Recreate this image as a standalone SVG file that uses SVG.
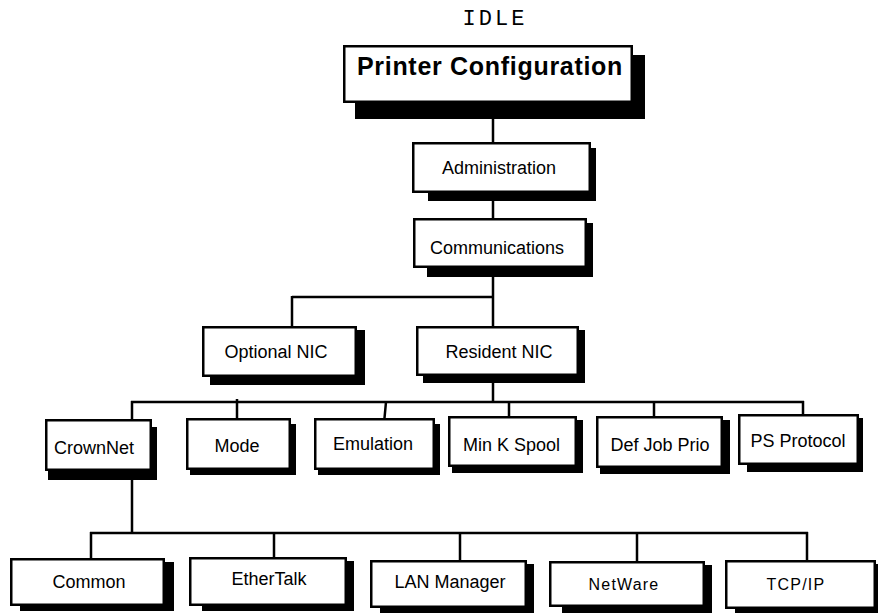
<svg xmlns="http://www.w3.org/2000/svg" width="878" height="613" viewBox="0 0 878 613">
<style>
.sh{fill:#000;stroke:none}
.bx{fill:#fff;stroke:#000;stroke-width:2.5}
.t{font-family:"Liberation Sans",Arial,sans-serif;font-size:18px;fill:#000;text-anchor:middle}
.ts{font-family:"Liberation Sans",Arial,sans-serif;font-size:16px;letter-spacing:1.2px;fill:#000;text-anchor:middle}
.cn{fill:none;stroke:#000;stroke-width:2.5}
</style>
<rect width="878" height="613" fill="#fff"/>
<text x="495" y="25" font-family="'Liberation Mono','Courier New',monospace" font-size="22" letter-spacing="3" text-anchor="middle">IDLE</text>
<g id="connectors">
<path class="cn" d="M493,118V142M493,200V218M493,276V326M292,297H494M292,296V326"/>
<path class="cn" d="M493,382V403M131,402H804M132,401V419M237,399V418M386,402L384.5,418M509,402V416M654,402V416M803,401V414"/>
<path class="cn" d="M132,479V533M90,533H808M91,532V558M274,532V557M460,532V560M637,532V561M807,532V560"/>
</g>
<g id="printer-configuration">
<rect class="sh" x="355" y="55" width="290" height="64"/>
<rect class="bx" x="344.25" y="46.25" width="287.5" height="55.5"/>
<text x="490" y="75" font-family="'Liberation Sans',Arial,sans-serif" font-size="25" font-weight="bold" letter-spacing="0.7" text-anchor="middle">Printer Configuration</text>
</g>
<g id="administration">
<rect class="sh" x="428" y="148" width="168" height="53"/>
<rect class="bx" x="413.25" y="143.25" width="176.5" height="48.5"/>
<text class="t" x="499" y="174">Administration</text>
</g>
<g id="communications">
<rect class="sh" x="427" y="223" width="166" height="54"/>
<rect class="bx" x="414.25" y="219.25" width="171.5" height="47.5"/>
<text class="t" x="497" y="254">Communications</text>
</g>
<g id="optional-nic">
<rect class="sh" x="210" y="330" width="155" height="55"/>
<rect class="bx" x="203.25" y="327.25" width="152.5" height="48.5"/>
<text class="t" x="276" y="358">Optional NIC</text>
</g>
<g id="resident-nic">
<rect class="sh" x="423" y="330" width="162" height="53"/>
<rect class="bx" x="417.25" y="327.25" width="160.5" height="47.5"/>
<text class="t" x="499" y="358">Resident NIC</text>
</g>
<g id="crownnet">
<rect class="sh" x="48" y="427" width="109" height="53"/>
<rect class="bx" x="46.25" y="420.25" width="104.5" height="49.5"/>
<text class="t" x="94" y="454">CrownNet</text>
</g>
<g id="mode">
<rect class="sh" x="190" y="424" width="106" height="51"/>
<rect class="bx" x="187.25" y="419.25" width="102.5" height="49.5"/>
<text class="t" x="237" y="452">Mode</text>
</g>
<g id="emulation">
<rect class="sh" x="318" y="424" width="122" height="51"/>
<rect class="bx" x="315.25" y="419.25" width="118.5" height="49.5"/>
<text class="t" x="373" y="450">Emulation</text>
</g>
<g id="min-k-spool">
<rect class="sh" x="452" y="420" width="131" height="53"/>
<rect class="bx" x="449.25" y="417.25" width="126.5" height="48.5"/>
<text class="t" x="511.5" y="451">Min K Spool</text>
</g>
<g id="def-job-prio">
<rect class="sh" x="600" y="420" width="130" height="54"/>
<rect class="bx" x="597.25" y="417.25" width="124.5" height="49.5"/>
<text class="t" x="660" y="451">Def Job Prio</text>
</g>
<g id="ps-protocol">
<rect class="sh" x="747" y="418" width="116" height="54"/>
<rect class="bx" x="739.25" y="415.25" width="118.5" height="48.5"/>
<text class="t" x="798" y="447">PS Protocol</text>
</g>
<g id="common">
<rect class="sh" x="20" y="562" width="154" height="49"/>
<rect class="bx" x="11.25" y="559.25" width="152.5" height="45.5"/>
<text class="t" x="89" y="588">Common</text>
</g>
<g id="ethertalk">
<rect class="sh" x="202" y="561" width="152" height="50"/>
<rect class="bx" x="190.25" y="558.25" width="155.5" height="46.5"/>
<text class="t" x="269" y="585">EtherTalk</text>
</g>
<g id="lan-manager">
<rect class="sh" x="380" y="564" width="154" height="52"/>
<rect class="bx" x="371.25" y="561.25" width="154.5" height="45.5"/>
<text class="t" x="450" y="588">LAN Manager</text>
</g>
<g id="netware">
<rect class="sh" x="562" y="565" width="150" height="52"/>
<rect class="bx" x="550.25" y="562.25" width="153.5" height="43.5"/>
<text class="ts" x="624" y="590">NetWare</text>
</g>
<g id="tcp-ip">
<rect class="sh" x="735" y="564" width="150" height="52"/>
<rect class="bx" x="726.25" y="561.25" width="148.5" height="46.5"/>
<text class="ts" x="796" y="590">TCP/IP</text>
</g>
</svg>
